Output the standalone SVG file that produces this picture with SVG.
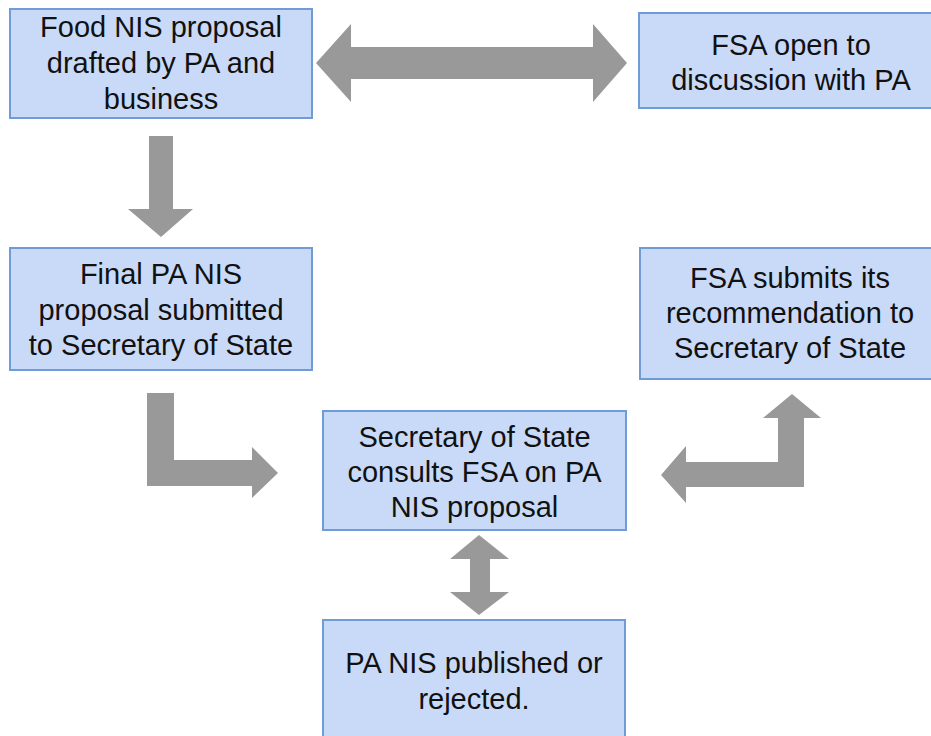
<svg xmlns="http://www.w3.org/2000/svg" width="931" height="736" viewBox="0 0 931 736">
<style>
.box{fill:#c9daf8;stroke:#6f9bd6;stroke-width:2}
.t{font-family:"Liberation Sans",Arial,sans-serif;font-size:29px;fill:#111;text-anchor:middle}
.arr{fill:#999999}
</style>
<rect width="931" height="736" fill="#ffffff"/>
<g id="connectors">
<polygon class="arr" points="316,63 351,24 351,47 593,47 593,24 627,63 593,102 593,79 351,79 351,102"/>
<polygon class="arr" points="149,136 173,136 173,209 193,209 161,237 128,209 149,209"/>
<polygon class="arr" points="147,393 174,393 174,460 252,460 252,447 278,473 252,498 252,486 147,486"/>
<polygon class="arr" points="792,394 821,418 804,418 804,487 686,487 686,503 661,475 686,446 686,462 778,462 778,418 763,418"/>
<polygon class="arr" points="479,535 509,559 490,559 490,592 509,592 479,615 450,592 470,592 470,559 450,559"/>
</g>
<g id="node1"><rect class="box" x="10" y="9" width="302" height="109"/>
<text class="t" x="161" y="37">Food NIS proposal</text><text class="t" x="161" y="73">drafted by PA and</text><text class="t" x="161" y="109">business</text></g>
<g id="node2"><rect class="box" x="639" y="13" width="304" height="95"/>
<text class="t" x="791" y="54.5">FSA open to</text><text class="t" x="791" y="89.5">discussion with PA</text></g>
<g id="node3"><rect class="box" x="10" y="248" width="302" height="122"/>
<text class="t" x="161" y="284">Final PA NIS</text><text class="t" x="161" y="319.5">proposal submitted</text><text class="t" x="161" y="355">to Secretary of State</text></g>
<g id="node4"><rect class="box" x="640" y="248" width="302" height="131"/>
<text class="t" x="790" y="288">FSA submits its</text><text class="t" x="790" y="323">recommendation to</text><text class="t" x="790" y="358">Secretary of State</text></g>
<g id="node5"><rect class="box" x="323" y="411" width="303" height="119"/>
<text class="t" x="474.5" y="447">Secretary of State</text><text class="t" x="474.5" y="482">consults FSA on PA</text><text class="t" x="474.5" y="517">NIS proposal</text></g>
<g id="node6"><rect class="box" x="323" y="620" width="302" height="130"/>
<text class="t" x="474" y="673">PA NIS published or</text><text class="t" x="474" y="709">rejected.</text></g>
</svg>
